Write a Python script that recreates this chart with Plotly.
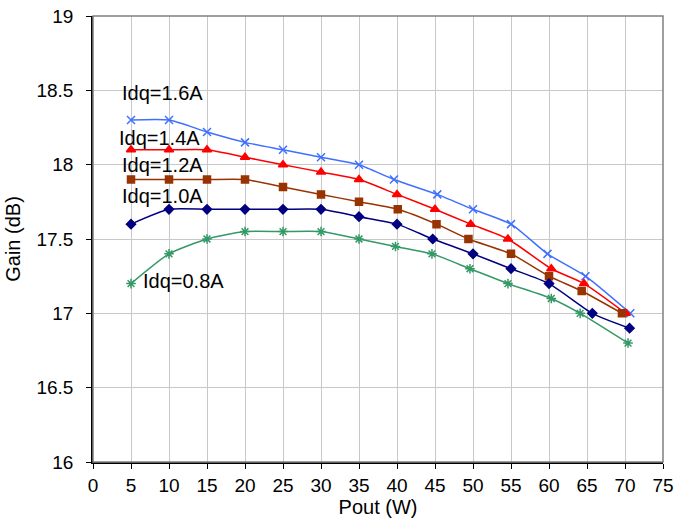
import plotly.graph_objects as go

# Data
pout_16 = [5, 10, 15, 20, 25, 30, 35, 39.6, 45.3, 50, 55, 59.8, 64.8, 70.7]
gain_16 = [18.3, 18.3, 18.22, 18.15, 18.1, 18.05, 18.0, 17.9, 17.8, 17.7, 17.6, 17.4, 17.25, 17.0]

pout_14 = [5, 10, 15, 20, 25, 30, 35, 40, 45, 49.7, 54.6, 60.3, 64.6, 70.1]
gain_14 = [18.1, 18.1, 18.1, 18.05, 18.0, 17.95, 17.9, 17.8, 17.7, 17.6, 17.5, 17.3, 17.2, 17.0]

pout_12 = [5, 10, 15, 20, 25, 30, 35, 40.1, 45.2, 49.4, 55, 60, 64.3, 69.6]
gain_12 = [17.9, 17.9, 17.9, 17.9, 17.85, 17.8, 17.75, 17.7, 17.6, 17.5, 17.4, 17.25, 17.15, 17.0]

pout_10 = [5, 10, 15, 20, 25, 30, 35, 40, 44.7, 50, 55, 60, 65.7, 70.6]
gain_10 = [17.6, 17.7, 17.7, 17.7, 17.7, 17.7, 17.65, 17.6, 17.5, 17.4, 17.3, 17.2, 17.0, 16.9]

pout_08 = [5, 10, 15, 20, 25, 30, 35, 39.8, 44.6, 49.6, 54.6, 60.3, 64.1, 70.4]
gain_08 = [17.2, 17.4, 17.5, 17.55, 17.55, 17.55, 17.5, 17.45, 17.4, 17.3, 17.2, 17.1, 17.0, 16.8]

labels = ["Idq=1.6A", "Idq=1.4A", "Idq=1.2A", "Idq=1.0A", "Idq=0.8A"]
label_x = [3.55, 3.15, 3.55, 3.55, 6.3]
label_y = [18.48, 18.18, 18.0, 17.79, 17.22]

x_ticks = list(range(0, 80, 5))
y_ticks = [16, 16.5, 17, 17.5, 18, 18.5, 19]

series = [
    (pout_16, gain_16, "#3F6FFF", "x-thin-open", 8),
    (pout_14, gain_14, "#FF0000", "triangle-up", 8),
    (pout_12, gain_12, "#993300", "square", 7),
    (pout_10, gain_10, "#000080", "diamond", 7),
    (pout_08, gain_08, "#339966", "asterisk-open", 8),
]

fig = go.Figure()
for (xs, ys, col, sym, sz), name in zip(series, labels):
    fig.add_trace(go.Scatter(
        x=xs, y=ys, mode="lines+markers", name=name,
        line=dict(color=col, width=1.5, shape="spline", smoothing=0.6),
        marker=dict(symbol=sym, size=sz, color=col, line=dict(color=col, width=1.5)),
        showlegend=False,
    ))

for t, lx, ly in zip(labels, label_x, label_y):
    fig.add_annotation(x=lx, y=ly, text=t, showarrow=False, xanchor="left",
                       yanchor="middle", font=dict(size=20, color="black"))

font_family = "Liberation Sans, Arial, sans-serif"
fig.update_layout(
    width=675, height=522,
    margin=dict(l=93, r=12, t=16, b=60),
    paper_bgcolor="white", plot_bgcolor="white",
    font=dict(family=font_family, size=19, color="black"),
    shapes=[dict(type="rect", xref="paper", yref="paper", x0=0, y0=0, x1=1, y1=1,
                 line=dict(color="#808080", width=1.5), layer="above")],
)
fig.update_xaxes(
    range=[0, 75], tickvals=x_ticks, ticktext=[str(v) for v in x_ticks],
    showgrid=True, gridcolor="#c8c8c8", gridwidth=1,
    showline=True, linecolor="black", linewidth=1.5,
    ticks="outside", ticklen=5, tickcolor="black",
    title=dict(text="Pout (W)", font=dict(size=20), standoff=4),
    tickfont=dict(size=19), zeroline=False, automargin=False,
    ticklabelstandoff=0,
)
fig.update_yaxes(
    range=[16, 19], tickvals=y_ticks, ticktext=["16", "16.5", "17", "17.5", "18", "18.5", "19"],
    showgrid=True, gridcolor="#c8c8c8", gridwidth=1,
    showline=True, linecolor="black", linewidth=1.5,
    ticks="outside", ticklen=5, tickcolor="black",
    title=dict(text="Gain (dB)", font=dict(size=20), standoff=10),
    tickfont=dict(size=19), zeroline=False, automargin=False,
    ticklabelstandoff=9,
)
fig.write_html("out.html", config={"displayModeBar": False},
               post_script="document.body.style.margin='0';")
